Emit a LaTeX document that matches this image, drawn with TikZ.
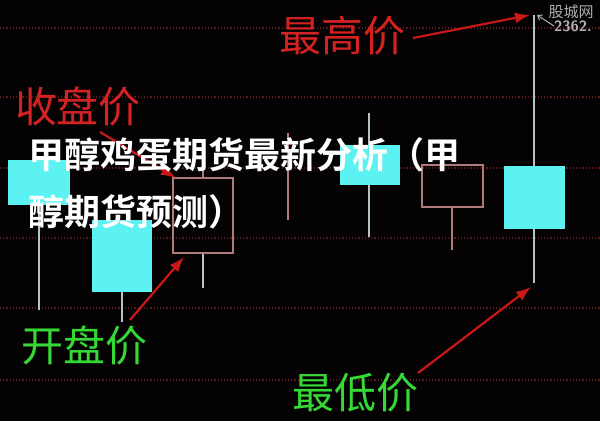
\documentclass[tikz,border=0pt]{standalone}
\usepackage{fontspec}
\newfontfamily\cjk{Noto Sans CJK SC}
\newfontfamily\cjkb{Noto Sans CJK SC Bold}
\usetikzlibrary{arrows.meta}
\definecolor{bg}{HTML}{050203}
\definecolor{gridred}{HTML}{5A1A1A}
\definecolor{candlecyan}{HTML}{5CF2F2}
\definecolor{wickgray}{HTML}{B8C4C4}
\definecolor{candlepink}{HTML}{B07A7A}
\definecolor{labelred}{HTML}{D42222}
\definecolor{labelgreen}{HTML}{35D835}
\definecolor{arrowred}{HTML}{C81818}
\definecolor{wmgray}{HTML}{B0B0B0}
\tikzset{
  gridline/.style={gridred, line width=1.2pt, dash pattern=on 1.2pt off 2pt},
  upbody/.style={fill=candlecyan, draw=none},
  downbody/.style={draw=candlepink, line width=1.6pt},
  cwick/.style={wickgray, line width=1.6pt},
  pwick/.style={candlepink, line width=1.6pt},
  redlabel/.style={text=labelred, font=\cjk\fontsize{42}{42}\selectfont, inner sep=0pt},
  greenlabel/.style={text=labelgreen, font=\cjk\fontsize{42}{42}\selectfont, inner sep=0pt},
  pointer/.style={arrowred, line width=2.2pt, -{Latex[length=15pt,width=11pt]}},
  titletext/.style={font=\cjkb\fontsize{36}{36}\selectfont, inner sep=0pt, anchor=west, text=white},
}
\begin{document}
\begin{tikzpicture}[x=1pt,y=-1pt]
\fill[bg] (0,0) rectangle (600,421);
\useasboundingbox (0,0) rectangle (600,421);
% grid
\foreach \gy in {28,97,168,238,308,380}{
  \draw[gridline] (0,\gy) -- (600,\gy);
}
% candle 1
\draw[cwick] (39,205) -- (39,310);
\fill[upbody] (8,160) rectangle (70,205);
% candle 2
\draw[cwick] (122,292) -- (122,322);
\fill[upbody] (92,220) rectangle (152,292);
% candle 3
\draw[pwick] (203,165) -- (203,178);
\draw[cwick] (203,253) -- (203,288);
\draw[downbody] (173,178) rectangle (233,253);
\coordinate (c3tl) at (176,178);
\coordinate (c3bl) at (184,257);
% candle 4
\draw[pwick] (288,133) -- (288,220);
% candle 5
\draw[cwick] (369,113) -- (369,237);
\fill[upbody] (340,145) rectangle (400,185);
% candle 6
\draw[pwick] (452,207) -- (452,250);
\draw[downbody] (422,165) rectangle (483,207);
% candle 7
\draw[cwick] (534,15) -- (534,283);
\fill[upbody] (504,166) rectangle (565,229);
\coordinate (hightip) at (530,15);
\coordinate (lowtip) at (531,287);
% watermark
\node[text=wmgray, font=\cjk\fontsize{15}{15}\selectfont, inner sep=0pt] (wm1) at (571,12) {股城网};
\node[text=wmgray, font=\sffamily\bfseries\fontsize{15}{15}\selectfont, inner sep=0pt, anchor=west] (wm2) at (554,26) {2362.};
\draw[wmgray, line width=1pt, -{Straight Barb[length=4pt,width=6pt]}] (wm2.west) -- (537,15);
% labels
\node[redlabel] (high) at (342,36) {最高价};
\node[redlabel] (close) at (78,106) {收盘价};
\node[greenlabel] (open) at (84,345) {开盘价};
\node[greenlabel] (low) at (355,393) {最低价};
\coordinate (highs) at (413,38);
\coordinate (closes) at (100,132);
\coordinate (opens) at (130,320);
\coordinate (lows) at (418,373);
\draw[pointer] (highs) -- (hightip);
\draw[pointer] (closes) -- (c3tl);
\draw[pointer] (opens) -- (c3bl);
\draw[pointer] (lows) -- (lowtip);
% title
\node[titletext] (t1) at (28,155) {甲醇鸡蛋期货最新分析（甲};
\node[titletext] (t2) at (28,212) {醇期货预测）};
\end{tikzpicture}
\end{document}
